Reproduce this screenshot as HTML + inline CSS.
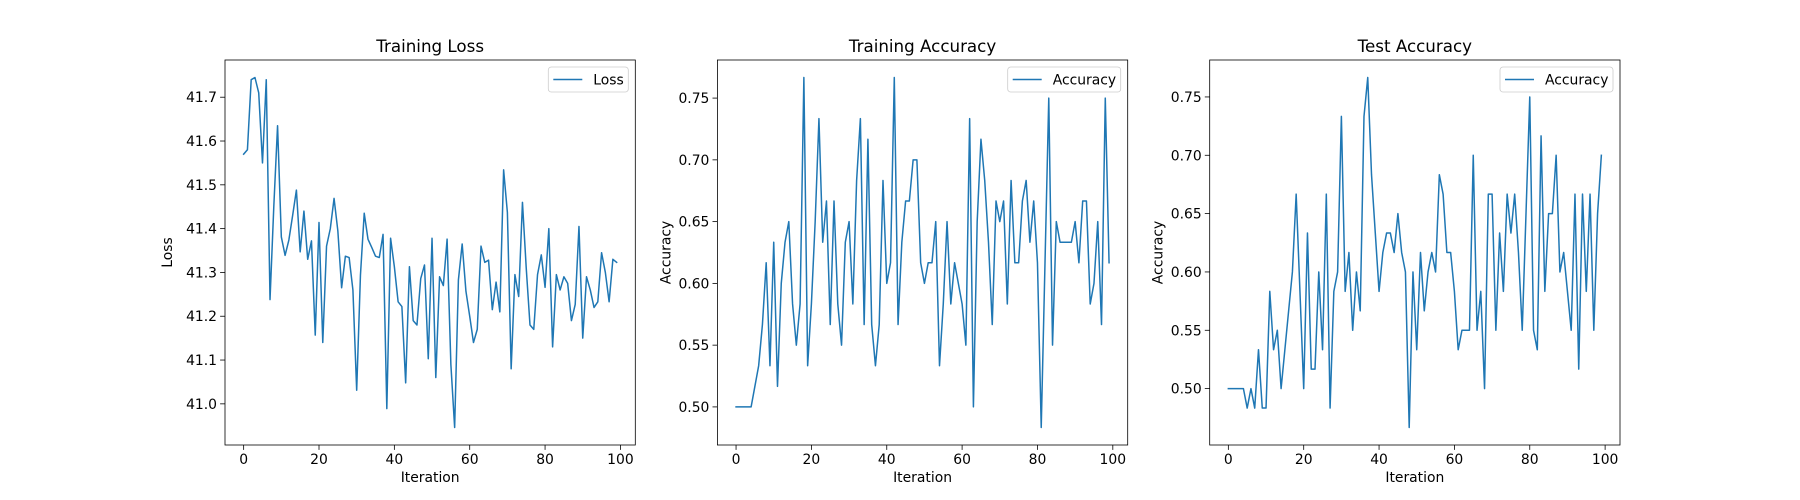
<!DOCTYPE html>
<html><head><meta charset="utf-8"><style>
html,body{margin:0;padding:0;background:#fff}
svg{display:block}
text{font-family:"DejaVu Sans","Liberation Sans",sans-serif;fill:#000}
</style></head><body>
<svg id="fig" width="1800" height="500" xmlns="http://www.w3.org/2000/svg"></svg>
<script>
const iterations = Array.from({length:100},(_,i)=>i);
const lossValues = [41.57,41.58,41.74,41.745,41.71,41.55,41.74,41.238,41.45,41.635,41.381,41.339,41.374,41.43,41.488,41.347,41.44,41.33,41.372,41.157,41.414,41.14,41.36,41.40,41.469,41.395,41.265,41.337,41.334,41.26,41.031,41.294,41.435,41.376,41.357,41.337,41.334,41.387,40.989,41.378,41.313,41.233,41.222,41.048,41.313,41.19,41.18,41.286,41.317,41.103,41.378,41.06,41.29,41.27,41.376,41.09,40.946,41.283,41.365,41.257,41.2,41.14,41.17,41.36,41.323,41.328,41.215,41.278,41.21,41.534,41.437,41.08,41.295,41.245,41.46,41.31,41.18,41.17,41.295,41.34,41.266,41.40,41.13,41.295,41.26,41.29,41.275,41.19,41.227,41.405,41.15,41.29,41.26,41.22,41.233,41.345,41.30,41.233,41.33,41.323];
const trainAccCounts = [30,30,30,30,30,31,32,34,37,32,38,31,36,38,39,35,33,35,46,32,35,39,44,38,40,34,40,35,33,38,39,35,41,44,34,43,34,32,34,41,36,37,46,34,38,40,40,42,42,37,36,37,37,39,32,35,39,35,37,36,35,33,44,30,39,43,41,38,34,40,39,40,35,41,37,37,40,41,38,40,37,29,37,45,33,39,38,38,38,38,39,37,40,40,35,36,39,34,45,37];
const testAccCounts = [30,30,30,30,30,29,30,29,32,29,29,35,32,33,30,32,34,36,40,35,30,38,31,31,36,32,40,29,35,36,44,35,37,33,36,34,44,46,41,38,35,37,38,38,37,39,37,36,28,36,32,37,34,36,37,36,41,40,37,37,35,32,33,33,33,42,33,35,30,40,40,33,38,35,40,38,40,37,33,39,45,33,32,43,35,39,39,42,36,37,35,33,40,31,40,35,40,33,39,42];
const trainAcc = trainAccCounts.map(k=>k/60);
const testAcc = testAccCounts.map(k=>k/60);
const xTicks = [0,20,40,60,80,100];
const lossTicks = [41.0,41.1,41.2,41.3,41.4,41.5,41.6,41.7];
const accTicks = [0.50,0.55,0.60,0.65,0.70,0.75];

const NS="http://www.w3.org/2000/svg";
const svg=document.getElementById('fig');
function mk(tag,attrs,parent){const e=document.createElementNS(NS,tag);for(const k in attrs)e.setAttribute(k,attrs[k]);(parent||svg).appendChild(e);return e;}

function chart(key,x0,title,ylabel,values,yticks,fmt,legendText,legendW){
  const w=410.3,y0=60,h=385;
  const g=mk('g',{});
  
  
  const xmin=-4.95,xmax=103.95;
  let vmin=Math.min(...values),vmax=Math.max(...values);const m=(vmax-vmin)*0.05;const ymin=vmin-m,ymax=vmax+m;
  const sx=v=>x0+(v-xmin)/(xmax-xmin)*w;
  const sy=v=>y0+h-(v-ymin)/(ymax-ymin)*h;
  // ticks
  xTicks.forEach(t=>{const X=sx(t);
    const l=mk('line',{x1:X,x2:X,y1:y0+h,y2:y0+h+4.9,stroke:'#000','stroke-width':0.8},g);
    
    const tx=mk('text',{x:X,y:y0+h+19,'text-anchor':'middle','font-size':'13.9px'},g);tx.textContent=t;
    });
  yticks.forEach(t=>{const Y=sy(t);
    const l=mk('line',{x1:x0-4.9,x2:x0,y1:Y,y2:Y,stroke:'#000','stroke-width':0.8},g);
    
    const tx=mk('text',{x:x0-8,y:Y+5,'text-anchor':'end','font-size':'13.9px'},g);tx.textContent=fmt(t);
    });
  // line
  const pts=values.map((v,i)=>sx(iterations[i]).toFixed(2)+','+sy(v).toFixed(2)).join(' ');
  const pl=mk('polyline',{points:pts,fill:'none',stroke:'#1f77b4','stroke-width':1.5,'stroke-linejoin':'round','stroke-linecap':'square'},g);
  
  // frame
  const fr=mk('rect',{x:x0,y:y0,width:w,height:h,fill:'none',stroke:'#000','stroke-width':0.8},g);
  
  const tt=mk('text',{x:x0+w/2,y:y0-8,'text-anchor':'middle','font-size':'16.7px'},g);tt.textContent=title;
  
  const xl=mk('text',{x:x0+w/2,y:y0+h+37,'text-anchor':'middle','font-size':'13.9px'},g);xl.textContent='Iteration';
  
  const yl=mk('text',{x:0,y:0,'text-anchor':'middle','font-size':'13.9px',transform:`translate(${x0-(ylabel==='Loss'?53:47)},${y0+h/2}) rotate(-90)`},g);yl.textContent=ylabel;
  
  // legend
  const lx=x0+w-7-legendW,ly=y0+7;
  const lg=mk('g',{},g);
  
  mk('rect',{x:lx,y:ly,width:legendW,height:25,rx:3,fill:'#fff','fill-opacity':0.8,stroke:'#ccc','stroke-width':0.8},lg);
  mk('line',{x1:lx+5,x2:lx+34,y1:ly+12.5,y2:ly+12.5,stroke:'#1f77b4','stroke-width':1.5},lg);
  const lt=mk('text',{x:lx+45,y:ly+17.5,'font-size':'13.9px'},lg);lt.textContent=legendText;
  
}
chart('training-loss',225,'Training Loss','Loss',lossValues,lossTicks,t=>t.toFixed(1),'Loss',80);
chart('training-accuracy',717.4,'Training Accuracy','Accuracy',trainAcc,accTicks,t=>t.toFixed(2),'Accuracy',113);
chart('test-accuracy',1209.7,'Test Accuracy','Accuracy',testAcc,accTicks,t=>t.toFixed(2),'Accuracy',113);
</script>
</body></html>
